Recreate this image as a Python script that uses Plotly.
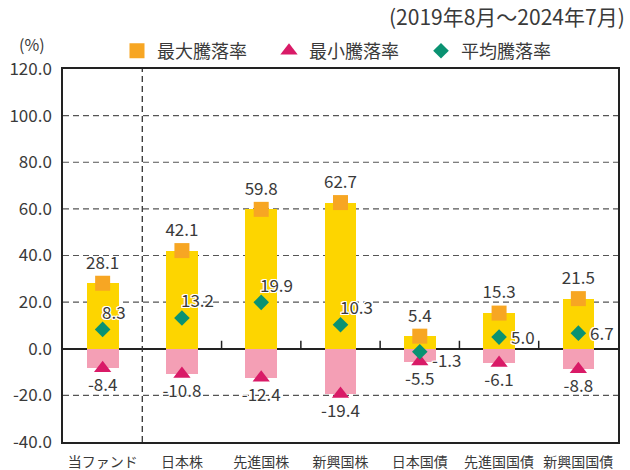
import plotly.graph_objects as go

categories = ["当ファンド", "日本株", "先進国株", "新興国株", "日本国債", "先進国国債", "新興国国債"]
max_vals = [28.1, 42.1, 59.8, 62.7, 5.4, 15.3, 21.5]
min_vals = [-8.4, -10.8, -12.4, -19.4, -5.5, -6.1, -8.8]
avg_vals = [8.3, 13.2, 19.9, 10.3, -1.3, 5.0, 6.7]
y_ticks = [-40, -20, 0, 20, 40, 60, 80, 100, 120]

FONT = "Noto Sans CJK JP, Noto Sans, sans-serif"
TXT = "#3a3a3a"
HALO = "1px 1px 0 #fff, -1px -1px 0 #fff, 1px -1px 0 #fff, -1px 1px 0 #fff, 0 1px 0 #fff, 0 -1px 0 #fff, 1px 0 0 #fff, -1px 0 0 #fff"

W, H = 630, 470
ML, MR, MT, MB = 63, 12, 69, 28
PW, PH = W - ML - MR, H - MT - MB

x = list(range(len(categories)))

fig = go.Figure()

# dashed horizontal gridlines (zero line drawn solid by the axis)
for t in y_ticks:
    if t in (y_ticks[0], y_ticks[-1], 0):
        continue
    fig.add_shape(type="line", x0=0, x1=1, y0=t, y1=t, xref="paper", yref="y",
                  line=dict(color="#555", width=1.2, dash="6px,4px"), layer="below")

fig.add_trace(go.Bar(x=x, y=max_vals, width=0.4, marker=dict(color="#FDD500", line_width=0),
                     showlegend=False, hoverinfo="skip"))
fig.add_trace(go.Bar(x=x, y=min_vals, width=0.4, marker=dict(color="#F49FB5", line_width=0),
                     showlegend=False, hoverinfo="skip"))

fig.add_trace(go.Scatter(x=x, y=max_vals, mode="markers+text", name="最大騰落率",
                         marker=dict(symbol="square", size=15, color="#F7A623"),
                         text=[f"{v:.1f}" for v in max_vals], textposition="top center",
                         textfont=dict(size=17, color=TXT, family=FONT, shadow=HALO),
                         cliponaxis=False, hoverinfo="skip"))
fig.add_trace(go.Scatter(x=x, y=min_vals, mode="markers+text", name="最小騰落率",
                         marker=dict(symbol="triangle-up", size=15, color="#D91A67"),
                         text=[f"{v:.1f}" for v in min_vals], textposition="bottom center",
                         textfont=dict(size=17, color=TXT, family=FONT, shadow=HALO),
                         cliponaxis=False, hoverinfo="skip"))
fig.add_trace(go.Scatter(x=x, y=avg_vals, mode="markers", name="平均騰落率",
                         marker=dict(symbol="diamond", size=12, color="#0A9272"),
                         cliponaxis=False, hoverinfo="skip"))

# average labels: upper right for equity-type categories, right side for bond-type
for i, v in enumerate(avg_vals):
    upper = i < 4
    fig.add_annotation(x=x[i], y=v, text=f"{v:.1f}", showarrow=False,
                       xanchor="left", yanchor="middle",
                       xshift=-3 if upper else 10,
                       yshift=18 if upper else (-8 if v < 0 else 1),
                       font=dict(size=17, color=TXT, family=FONT, shadow=HALO))

# vertical dashed separator between fund and benchmarks
fig.add_shape(type="line", x0=0.5, x1=0.5, y0=0, y1=1, xref="x", yref="paper",
              line=dict(color="#333", width=1.3, dash="6px,4px"), layer="above")
# small ticks on zero line at category boundaries
for i in range(1, len(categories) - 1):
    fig.add_shape(type="line", x0=i + 0.5, x1=i + 0.5, y0=0, y1=8, xref="x", yref="y",
                  ysizemode="pixel", yanchor=0,
                  line=dict(color="#222", width=1.5), layer="above")

fig.add_annotation(text="(%)", xref="paper", yref="paper",
                   x=(32 - ML) / PW, y=(H - MB - 44) / PH,
                   xanchor="center", yanchor="middle", showarrow=False,
                   font=dict(size=16, color=TXT, family=FONT))
fig.add_annotation(text="(2019年8月～2024年7月)", xref="paper", yref="paper",
                   x=(627 - ML) / PW, y=(H - MB - 16) / PH,
                   xanchor="right", yanchor="middle", showarrow=False,
                   font=dict(size=21, color=TXT, family=FONT))

fig.update_layout(
    width=W, height=H,
    margin=dict(l=ML, r=MR, t=MT, b=MB, autoexpand=False),
    paper_bgcolor="white", plot_bgcolor="white",
    barmode="overlay", bargap=0,
    font=dict(family=FONT, color=TXT),
    showlegend=True,
    legend=dict(orientation="h", xref="container", yref="container",
                x=117 / W, y=1 - 51 / H, xanchor="left", yanchor="middle",
                font=dict(size=18, color=TXT, family=FONT),
                entrywidth=107, entrywidthmode="pixels", itemwidth=30,
                bgcolor="rgba(0,0,0,0)", traceorder="normal"),
    xaxis=dict(range=[-0.5, len(categories) - 0.5], tickvals=x, ticktext=categories,
               showgrid=False, zeroline=False, showline=True, linecolor="#222", linewidth=1.5,
               mirror=True, ticks="", tickfont=dict(size=14, color=TXT, family=FONT),
               ticklabelstandoff=6, fixedrange=True, automargin=False),
    yaxis=dict(range=[-40, 120], tickvals=y_ticks, ticktext=[f"{t:.1f}" for t in y_ticks],
               showgrid=False,
               zeroline=True, zerolinecolor="#222", zerolinewidth=1.5,
               showline=True, linecolor="#222", linewidth=1.5, mirror=True,
               ticks="", tickfont=dict(size=17, color=TXT, family=FONT),
               ticklabelstandoff=6, fixedrange=True, automargin=False),
)

fig.write_html("out.html", config={"displayModeBar": False},
               post_script="document.body.style.margin='0';document.body.style.overflow='hidden';")
